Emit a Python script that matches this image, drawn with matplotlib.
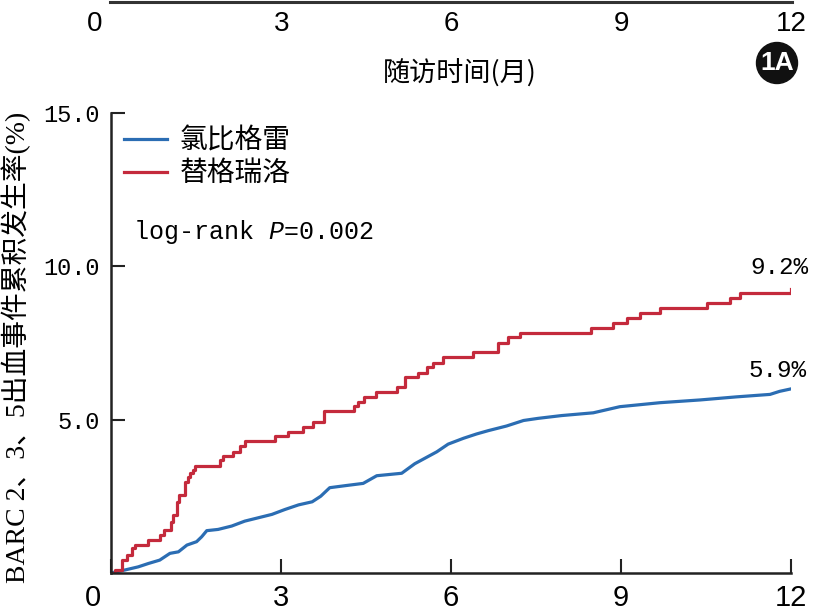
import matplotlib

matplotlib.use("Agg")
import matplotlib.pyplot as plt
from matplotlib import font_manager
from matplotlib.patches import Circle
from matplotlib.transforms import ScaledTranslation

names = {f.name for f in font_manager.fontManager.ttflist}
NARROW = "Liberation Sans Narrow" if "Liberation Sans Narrow" in names else "Liberation Sans"
CJK = "Noto Sans CJK SC"
MONO = "Liberation Mono"

plt.rcParams.update({
    "font.family": [CJK, "DejaVu Sans"],
    "mathtext.fontset": "custom",
    "mathtext.rm": MONO,
    "mathtext.it": MONO + ":italic",
})

# follow-up months and cumulative bleeding incidence (%)
months_ticks = [0, 3, 6, 9, 12]
y_ticks = [5, 10, 15]
y_tick_labels = ["5.0", "10.0", "15.0"]

tic_t = [0, 0.07, 0.19, 0.28, 0.37, 0.42, 0.66, 0.86, 0.94, 1.06, 1.10, 1.16, 1.20,
         1.31, 1.35, 1.39, 1.45, 1.49, 1.92, 1.98, 2.16, 2.28, 2.36, 2.89, 3.13, 3.39,
         3.57, 3.75, 4.29, 4.35, 4.47, 4.68, 5.05, 5.19, 5.42, 5.57, 5.68, 5.86, 6.39,
         6.83, 7.01, 7.22, 8.47, 8.86, 9.11, 9.33, 9.68, 10.51, 10.92, 11.10, 12.0]
tic_v = [0, 0.10, 0.42, 0.59, 0.80, 0.91, 1.07, 1.24, 1.40, 1.67, 1.89, 2.32, 2.54,
         2.97, 3.14, 3.25, 3.36, 3.49, 3.68, 3.81, 3.95, 4.14, 4.30, 4.46, 4.60, 4.77,
         4.93, 5.27, 5.45, 5.58, 5.73, 5.91, 6.07, 6.38, 6.53, 6.70, 6.85, 7.03, 7.19,
         7.48, 7.68, 7.83, 7.97, 8.16, 8.32, 8.48, 8.62, 8.79, 8.95, 9.11, 9.24]

clo_t = [0, 0.25, 0.48, 0.66, 0.86, 1.04, 1.19, 1.34, 1.51, 1.60, 1.69, 1.89, 2.13,
         2.36, 2.60, 2.84, 3.07, 3.31, 3.55, 3.70, 3.86, 4.15, 4.45, 4.69, 5.13, 5.36,
         5.55, 5.75, 5.95, 6.22, 6.45, 6.66, 6.98, 7.28, 7.54, 7.95, 8.51, 8.98, 9.69,
         10.40, 11.04, 11.63, 11.80, 12.0]
clo_v = [0, 0.10, 0.20, 0.31, 0.42, 0.64, 0.69, 0.91, 1.02, 1.18, 1.38, 1.42, 1.53,
         1.69, 1.80, 1.91, 2.07, 2.22, 2.32, 2.50, 2.78, 2.85, 2.92, 3.17, 3.25, 3.56,
         3.75, 3.95, 4.20, 4.39, 4.53, 4.64, 4.79, 4.97, 5.04, 5.13, 5.22, 5.42, 5.55,
         5.64, 5.74, 5.82, 5.92, 6.00]

c_blue, c_red = "#2b6db3", "#c42a3c"
W, H = 817, 614

fig = plt.figure(figsize=(W / 100, H / 100), dpi=100)

# cropped x-axis of the panel above
ax_top = fig.add_axes([110 / W, 1 - 1.5 / H, 682 / W, 0.5 / H])
ax_top.set_xlim(-0.04, 12.02)
ax_top.set_yticks([])
for s in ["top", "left", "right"]:
    ax_top.spines[s].set_visible(False)
ax_top.spines["bottom"].set_linewidth(2.2)
ax_top.spines["bottom"].set_color("#333333")
ax_top.set_xticks(months_ticks)
ax_top.set_xticklabels([str(m) for m in months_ticks], fontfamily=NARROW, fontsize=20)
ax_top.tick_params(axis="x", length=0, pad=7)
fig.text(460 / W, 1 - 74 / H, "随访时间(月)", ha="center", va="center", fontsize=19.5)
fig.add_artist(Circle((777 / 100, (H - 63) / 100), 0.205, transform=fig.dpi_scale_trans,
                      color="#111111"))
fig.text(777 / W, 1 - 63 / H, "1A", ha="center", va="center", color="white",
         fontsize=19, fontweight="bold", fontfamily=NARROW)

# main panel
ax = fig.add_axes([111 / W, 1 - 573 / H, 680 / W, (573 - 112.7) / H])
ax.plot(clo_t, clo_v, color=c_blue, lw=2.3, label="氯比格雷")
ax.plot(tic_t, tic_v, color=c_red, lw=2.3, drawstyle="steps-post", label="替格瑞洛")
ax.set_xlim(0, 12)
ax.set_ylim(0, 15)
ax.set_xticks(months_ticks)
ax.set_xticklabels([str(m) for m in months_ticks], fontfamily=NARROW, fontsize=21)
ax.set_yticks(y_ticks)
ax.set_yticklabels(y_tick_labels, fontfamily=MONO, fontsize=17)
ax.tick_params(direction="in", length=10, width=1.5, color="#222222")
ax.tick_params(axis="x", pad=8)
ax.tick_params(axis="y", pad=8)
for s in ["top", "right"]:
    ax.spines[s].set_visible(False)
for s in ["left", "bottom"]:
    ax.spines[s].set_linewidth(1.8)
    ax.spines[s].set_color("#222222")

# the "0" labels sit left of the origin in the original
shift = ScaledTranslation(-18 / 100, 0, fig.dpi_scale_trans)
for a in (ax, ax_top):
    lab = a.xaxis.get_major_ticks()[0].label1
    lab.set_transform(lab.get_transform() + shift)

ax.set_ylabel("BARC 2、3、5出血事件累积发生率(%)", fontfamily=["Liberation Serif", CJK],
              fontsize=20)
ax.yaxis.set_label_coords(-0.117, 0.49)

ax.legend(loc="upper left", bbox_to_anchor=(0.019, 0.972), frameon=False, fontsize=20,
          handlelength=1.55, handletextpad=0.45, labelspacing=0.1, borderpad=0,
          borderaxespad=0)
ax.text(0.032, 0.741, "log-rank $P$=0.002", transform=ax.transAxes, fontfamily=MONO,
        fontsize=18, va="center", ha="left")
ax.text(11.8, 9.94, "9.2%", fontfamily=MONO, fontsize=17.5, ha="center", va="center")
ax.text(11.77, 6.61, "5.9%", fontfamily=MONO, fontsize=17.5, ha="center", va="center")

fig.savefig("out.png", dpi=100)
